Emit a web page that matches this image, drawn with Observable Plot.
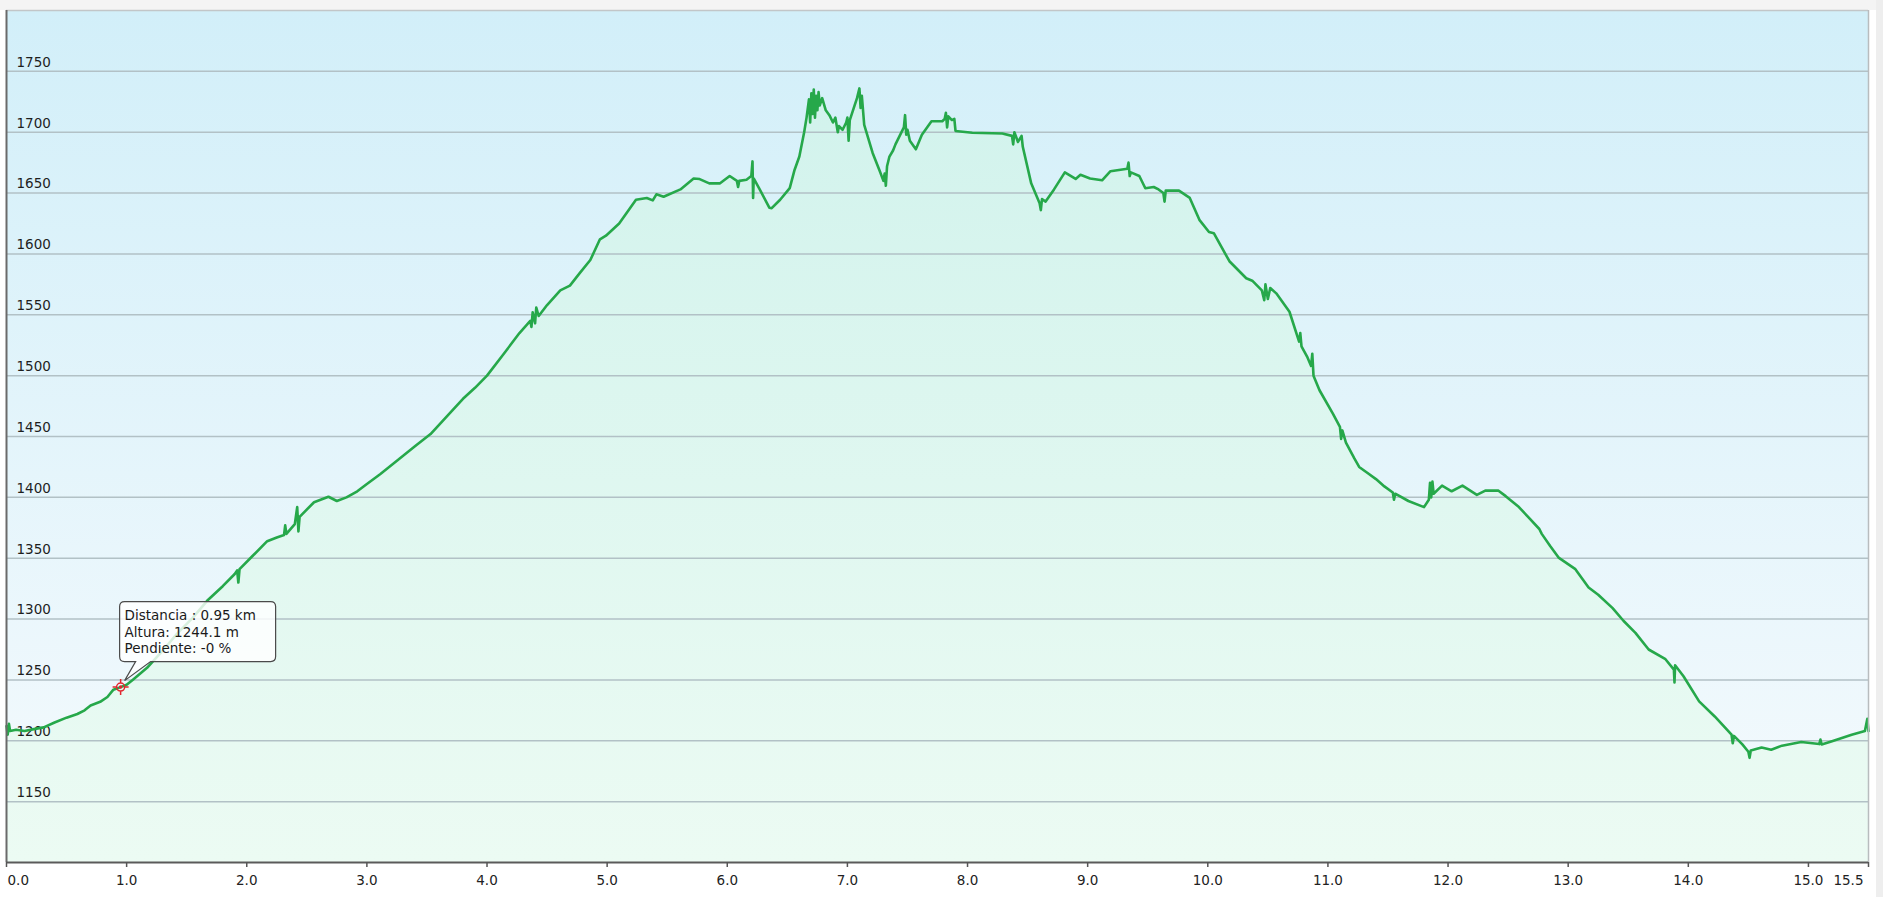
<!DOCTYPE html>
<html><head><meta charset="utf-8">
<script src="https://cdn.jsdelivr.net/npm/d3@7"></script>
<script src="https://cdn.jsdelivr.net/npm/@observablehq/plot@0.6"></script>
<style>
html,body{margin:0;padding:0;background:#fff;overflow:hidden;}
#wrap{position:relative;width:1883px;height:897px;background:#fff;}
#topstrip{position:absolute;left:0;top:0;width:1883px;height:10px;background:#f4f4f4;}
#rightbar{position:absolute;right:0;top:0;width:7px;height:897px;background:#eeeeee;}
#chart{position:absolute;left:0;top:0;}
</style></head>
<body><div id="wrap"><div id="topstrip"></div><div id="rightbar"></div><div id="chart"></div></div>
<script>
// Distance (km) along the track
const km = [0.00,0.01,0.02,0.03,0.08,0.15,0.25,0.31,0.40,0.50,0.59,0.65,0.70,0.78,0.84,0.89,0.95,1.00,1.05,1.17,1.30,1.42,1.55,1.67,1.80,1.90,1.92,1.93,1.94,2.05,2.17,2.25,2.31,2.32,2.33,2.40,2.42,2.43,2.44,2.56,2.68,2.75,2.83,2.92,3.00,3.11,3.25,3.40,3.53,3.66,3.80,3.90,4.00,4.14,4.27,4.36,4.37,4.38,4.40,4.41,4.43,4.50,4.61,4.69,4.77,4.86,4.94,4.99,5.10,5.24,5.33,5.38,5.41,5.47,5.61,5.72,5.77,5.85,5.94,6.02,6.08,6.09,6.10,6.16,6.20,6.21,6.215,6.22,6.27,6.35,6.37,6.44,6.52,6.56,6.60,6.64,6.66,6.68,6.69,6.70,6.71,6.72,6.73,6.74,6.75,6.76,6.77,6.79,6.82,6.85,6.88,6.90,6.92,6.93,6.96,6.99,7.00,7.01,7.02,7.06,7.08,7.10,7.11,7.12,7.14,7.21,7.27,7.30,7.31,7.32,7.33,7.35,7.38,7.40,7.44,7.47,7.48,7.49,7.50,7.52,7.57,7.62,7.70,7.79,7.81,7.82,7.83,7.84,7.87,7.89,7.90,8.04,8.29,8.37,8.38,8.39,8.42,8.45,8.46,8.53,8.60,8.61,8.62,8.65,8.72,8.81,8.90,8.94,9.02,9.12,9.19,9.33,9.34,9.35,9.36,9.43,9.48,9.55,9.59,9.63,9.64,9.65,9.76,9.85,9.93,10.01,10.05,10.18,10.32,10.37,10.45,10.47,10.48,10.50,10.52,10.57,10.68,10.76,10.77,10.78,10.83,10.86,10.87,10.88,10.93,11.04,11.10,11.11,11.12,11.15,11.22,11.26,11.33,11.40,11.47,11.54,11.55,11.56,11.67,11.80,11.84,11.85,11.86,11.87,11.88,11.95,12.03,12.12,12.24,12.31,12.42,12.48,12.59,12.67,12.76,12.78,12.85,12.92,13.06,13.17,13.25,13.37,13.46,13.56,13.67,13.81,13.88,13.885,13.89,13.96,14.09,14.22,14.36,14.37,14.38,14.45,14.50,14.51,14.52,14.61,14.69,14.78,14.94,15.09,15.10,15.11,15.19,15.36,15.47,15.49,15.50];
// Altitude (m)
const alt = [1212,1205,1214,1208,1209,1208,1210,1211,1215,1219,1222,1225,1229,1232,1236,1242,1244.1,1246,1250,1260,1274,1288,1301,1315,1327,1337,1340,1330,1341,1352,1364,1367,1369,1377,1370,1378,1392,1372,1384,1396,1400.5,1397,1400,1405,1411,1419,1430,1442,1452,1466,1481,1490,1500,1518,1535,1545,1540,1552,1543,1556,1549,1558,1570,1574,1584,1595,1612,1615,1625,1644.5,1646,1644,1649,1647,1653,1662,1661.5,1658,1658,1664,1660,1655,1660,1661,1664,1676,1646,1662,1653,1638,1637.6,1644.5,1654,1669,1680,1700,1712,1727,1708,1732,1715,1735,1712,1730,1718,1733,1722,1728,1718,1714,1708,1712,1700,1705,1702,1708,1712,1693,1710,1722,1728,1736,1720,1730,1706,1683,1668,1660,1666,1656,1672,1680,1685,1690,1698,1704,1714,1698,1702,1693,1686,1698,1709,1709,1711,1716,1704,1713,1710,1711,1701,1699.6,1699,1697,1690,1700,1692,1697,1688,1658,1641.7,1636,1645,1643,1653,1667,1661.6,1665,1662,1660.5,1668,1670,1675,1664,1667,1664,1654,1655,1653,1650,1643,1652,1652,1646,1628,1618,1617,1594,1580,1578,1570,1562,1575,1563,1572,1567.6,1552.5,1528,1535,1524,1515,1508,1518,1500,1488,1469,1458,1448,1455,1445,1432,1425,1420,1415,1409,1404,1398,1403,1397,1392,1398,1412,1400,1413,1403,1409.6,1405,1409.6,1402,1405.5,1405.5,1401,1392,1383.5,1374,1370,1360,1350.5,1341,1326,1320,1309,1298.6,1288.7,1275,1267,1258.5,1248,1262,1253,1232.4,1220,1205,1198,1204,1197,1191,1186,1192,1194.5,1192.6,1196,1199,1197.3,1201,1197,1199.5,1205,1208,1218,1208];

const yTicks = [1150,1200,1250,1300,1350,1400,1450,1500,1550,1600,1650,1700,1750];
const xTicks = [0,1,2,3,4,5,6,7,8,9,10,11,12,13,14,15,15.5];
const xLabelsMid = [1,2,3,4,5,6,7,8,9,10,11,12,13,14,15];
const xLabelFirst = [0];
const xLabelLast = [15.5];

// Tooltip values
const tipKm = [0.95];
const tipAlt = [1244.1];
const tipSlope = ["-0"];

const profile = km.map((k, i) => ({km: k, alt: alt[i]}));
const tip = tipKm.map((k, i) => ({km: k, alt: tipAlt[i], slope: tipSlope[i]}));

const callout = {
  draw(ctx) {
    const x0 = -1, x1 = 155, y0 = -85.5, y1 = -25.5, r = 5;
    ctx.moveTo(x0 + r, y0);
    ctx.lineTo(x1 - r, y0);
    ctx.quadraticCurveTo(x1, y0, x1, y0 + r);
    ctx.lineTo(x1, y1 - r);
    ctx.quadraticCurveTo(x1, y1, x1 - r, y1);
    ctx.lineTo(30, y1);
    ctx.lineTo(4, -6.5);
    ctx.lineTo(15, y1);
    ctx.lineTo(x0 + r, y1);
    ctx.quadraticCurveTo(x0, y1, x0, y1 - r);
    ctx.lineTo(x0, y0 + r);
    ctx.quadraticCurveTo(x0, y0, x0 + r, y0);
    ctx.closePath();
  }
};
const crosshair = {
  draw(ctx) {
    ctx.moveTo(4, 0);
    ctx.arc(0, 0, 4, 0, 2 * Math.PI);
    ctx.moveTo(-8, 0); ctx.lineTo(-4, 0);
    ctx.moveTo(4, 0); ctx.lineTo(8, 0);
    ctx.moveTo(0, -8); ctx.lineTo(0, -4);
    ctx.moveTo(0, 4); ctx.lineTo(0, 8);
    ctx.moveTo(1, 0); ctx.arc(0, 0, 1, 0, 2 * Math.PI);
  }
};

const fmt = d3.format(".1f");

const plot = Plot.plot({
  width: 1883,
  height: 897,
  marginLeft: 6,
  marginRight: 15,
  marginTop: 10,
  marginBottom: 35,
  x: {domain: [0, 15.5], axis: null, label: null},
  y: {domain: [1100, 1800], axis: null, label: null},
  style: {fontFamily: "'DejaVu Sans', Verdana, sans-serif", fontSize: "13px", background: "transparent", overflow: "visible"},
  marks: [
    Plot.frame({fill: "url(#bgGrad)", stroke: null}),
    Plot.areaY(profile, {x: "km", y1: 1100, y2: "alt", fill: "url(#areaGrad)"}),
    Plot.ruleY(yTicks, {stroke: "#b2c1c6", strokeWidth: 1.5}),
    Plot.text(yTicks, {y: d => d, text: d => String(d), frameAnchor: "left", dx: 10, dy: -9, textAnchor: "start", lineAnchor: "middle", fill: "#1e1e1e", fontSize: 13.5}),
    Plot.line(profile, {x: "km", y: "alt", stroke: "#26a84a", strokeWidth: 2.6, strokeLinejoin: "round"}),
    Plot.ruleY([1800], {stroke: "#c2c6c8", strokeWidth: 1.5}),
    Plot.ruleX([15.5], {stroke: "#b8bcbe", strokeWidth: 1.5}),
    Plot.ruleX([0], {stroke: "#6a6a6a", strokeWidth: 2}),
    Plot.ruleY([1100], {stroke: "#5a5a5a", strokeWidth: 2}),
    Plot.axisX({ticks: xTicks, tickSize: 5, tickFormat: () => "", label: null, stroke: "#555", strokeWidth: 1.5}),
    Plot.text(xLabelsMid, {x: d => d, text: d => fmt(d), frameAnchor: "bottom", lineAnchor: "top", dy: 13, textAnchor: "middle", fill: "#222", fontSize: 13.5}),
    Plot.text(xLabelFirst, {x: d => d, text: d => fmt(d), frameAnchor: "bottom", lineAnchor: "top", dy: 13, dx: 1, textAnchor: "start", fill: "#222", fontSize: 13.5}),
    Plot.text(xLabelLast, {x: d => d, text: d => fmt(d), frameAnchor: "bottom", lineAnchor: "top", dy: 13, dx: -5, textAnchor: "end", fill: "#222", fontSize: 13.5}),
    Plot.dot(tip, {x: "km", y: "alt", symbol: callout, r: 4, fill: "white", fillOpacity: 0.82, stroke: "#4a4a4a", strokeWidth: 1.2}),
    Plot.text(tip, {x: "km", y: "alt", text: d => `Distancia : ${d.km.toFixed(2)} km\nAltura: ${d.alt.toFixed(1)} m\nPendiente: ${d.slope} %`, dx: 4, dy: -78.5, textAnchor: "start", lineAnchor: "top", lineHeight: 1.21, fontSize: 13.5, fill: "#1a1a1a"}),
    Plot.dot(tip, {x: "km", y: "alt", symbol: crosshair, r: 4, fill: "none", stroke: "#e2262e", strokeWidth: 1.5})
  ]
});

d3.select(plot).insert("defs", ":first-child").html(`
  <linearGradient id="bgGrad" x1="0" y1="0" x2="0" y2="1">
    <stop offset="0" stop-color="#d2eff9"/>
    <stop offset="1" stop-color="#f5fafd"/>
  </linearGradient>
  <linearGradient id="areaGrad" gradientUnits="userSpaceOnUse" x1="0" y1="10" x2="0" y2="862">
    <stop offset="0" stop-color="#cff2ec"/>
    <stop offset="1" stop-color="#ecfbf3"/>
  </linearGradient>`);

document.getElementById("chart").appendChild(plot);
</script>
</body></html>
